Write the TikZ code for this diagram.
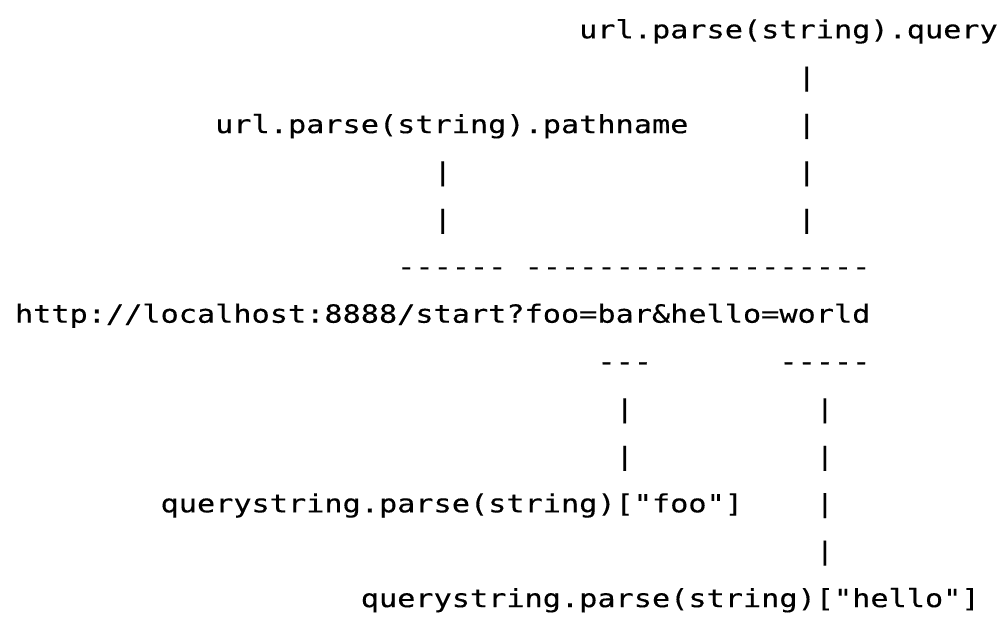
\documentclass[tikz,border=0pt]{standalone}
\usepackage{fontspec}
\newfontfamily\asciimono[FakeStretch=1.2093,FakeBold=0.3]{DejaVu Sans Mono}
\tikzset{
  txt/.style={anchor=base west, inner sep=0pt, outer sep=0pt, font=\asciimono\fontsize{12.5pt}{14pt}\selectfont, text=black}
}
% column -> x (px), line -> y (px)
\newcommand\cx[1]{15+#1*18.2}
\newcommand\ly[1]{38.3+#1*47.4}
\begin{document}
\begin{tikzpicture}[x=0.5pt,y=-0.5pt]
\fill[white] (0,0) rectangle (1008,636);
\useasboundingbox (0,0) rectangle (1008,636);
% line 0
\node[txt] (query) at ({\cx{31}},{\ly{0}}) {url.parse(string).query};
% line 1
\node[txt] (qbar1) at ({\cx{43}},{\ly{1}}) {|};
% line 2
\node[txt] (pathname) at ({\cx{11}},{\ly{2}}) {url.parse(string).pathname};
\node[txt] (qbar2) at ({\cx{43}},{\ly{2}}) {|};
% line 3
\node[txt] (pbar1) at ({\cx{23}},{\ly{3}}) {|};
\node[txt] (qbar3) at ({\cx{43}},{\ly{3}}) {|};
% line 4
\node[txt] (pbar2) at ({\cx{23}},{\ly{4}}) {|};
\node[txt] (qbar4) at ({\cx{43}},{\ly{4}}) {|};
% line 5
\node[txt] (pdash) at ({\cx{21}},{\ly{5}}) {------};
\node[txt] (qdash) at ({\cx{28}},{\ly{5}}) {-------------------};
% line 6
\node[txt] (url) at ({\cx{0}},{\ly{6}}) {http://localhost:8888/start?foo=bar\&hello=world};
% line 7
\node[txt] (foodash) at ({\cx{32}},{\ly{7}}) {---};
\node[txt] (hellodash) at ({\cx{42}},{\ly{7}}) {-----};
% line 8
\node[txt] (fbar1) at ({\cx{33}},{\ly{8}}) {|};
\node[txt] (hbar1) at ({\cx{44}},{\ly{8}}) {|};
% line 9
\node[txt] (fbar2) at ({\cx{33}},{\ly{9}}) {|};
\node[txt] (hbar2) at ({\cx{44}},{\ly{9}}) {|};
% line 10
\node[txt] (foo) at ({\cx{8}},{\ly{10}}) {querystring.parse(string)["foo"]};
\node[txt] (hbar3) at ({\cx{44}},{\ly{10}}) {|};
% line 11
\node[txt] (hbar4) at ({\cx{44}},{\ly{11}}) {|};
% line 12
\node[txt] (hello) at ({\cx{19}},{\ly{12}}) {querystring.parse(string)["hello"]};
\end{tikzpicture}
\end{document}
